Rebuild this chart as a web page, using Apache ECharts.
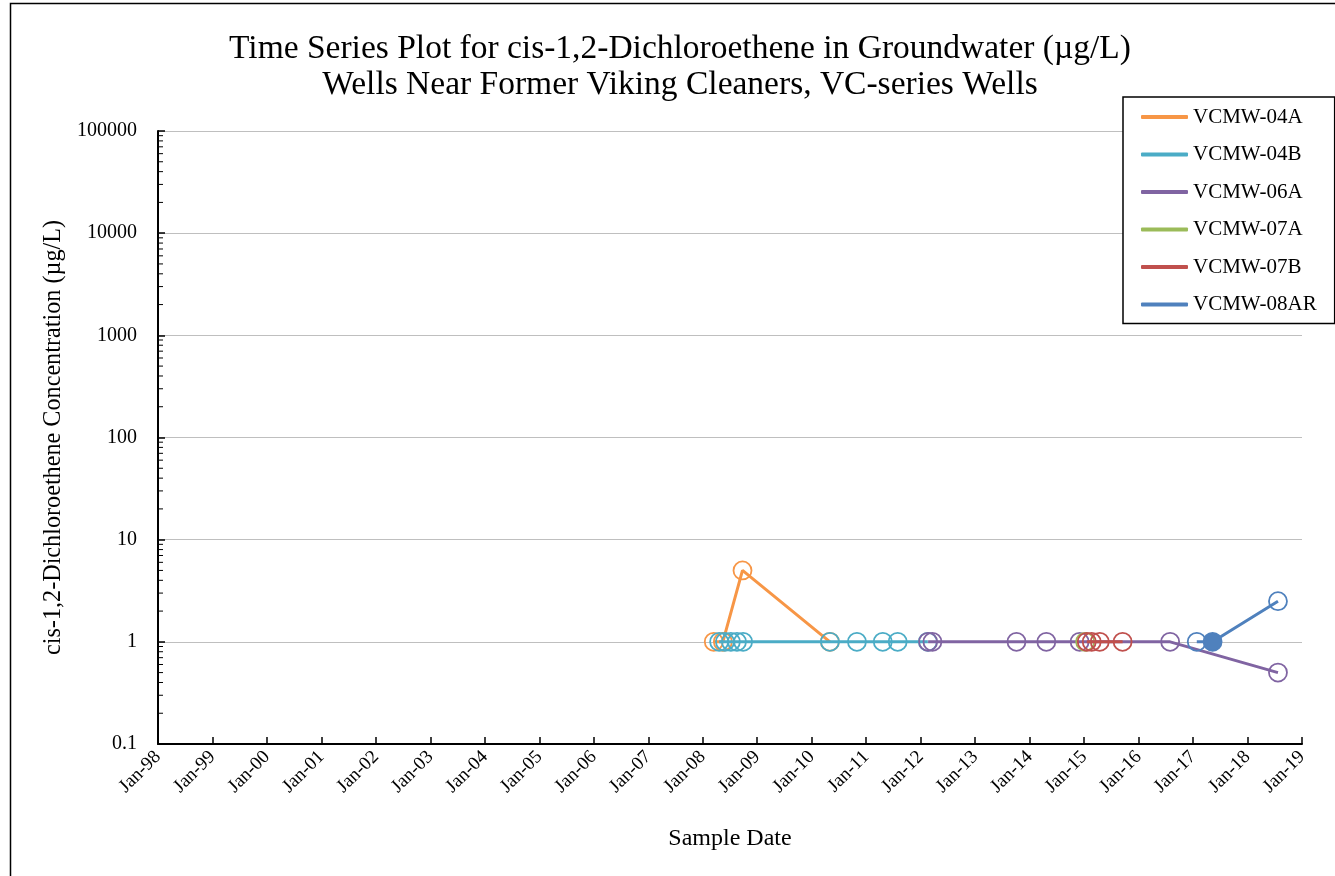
<!DOCTYPE html>
<html>
<head>
<meta charset="utf-8">
<script src="https://cdn.jsdelivr.net/npm/echarts@6/dist/echarts.min.js"></script>
<style>
html,body{margin:0;padding:0;background:#fff;}
#chart{width:1335px;height:876px;}
</style>
</head>
<body>
<div id="chart"></div>
<script>
// ---------- DATA ----------
const seriesNames = ['VCMW-04A','VCMW-04B','VCMW-06A','VCMW-07A','VCMW-07B','VCMW-08AR'];
const seriesColors = ['#F79646','#4BACC6','#8064A2','#9BBB59','#C0504D','#4F81BD'];

const dates04A = ['2008-03-15','2008-05-15','2008-09-24','2010-05-03'];
const vals04A  = [1, 1, 5, 1];

const dates04B = ['2008-04-20','2008-05-29','2008-07-08','2008-08-18','2008-09-28','2010-05-03','2010-10-31','2011-04-22','2011-07-31','2012-02-18'];
const vals04B  = [1, 1, 1, 1, 1, 1, 1, 1, 1, 1];

const dates06A = ['2012-02-20','2012-03-20','2013-10-05','2014-04-23','2014-12-02','2016-07-31','2018-07-24'];
const vals06A  = [1, 1, 1, 1, 1, 1, 0.5];

const dates07A = ['2015-01-08'];
const vals07A  = [1];

const dates07B = ['2015-01-19','2015-02-21','2015-04-16','2015-09-16'];
const vals07B  = [1, 1, 1, 1];

const dates08AR = ['2017-01-26','2017-05-12','2018-07-24'];
const vals08AR  = [1, 1, 2.5];
const detected08AR = [false, true, false];

const xTickYears = [1998, 2019];          // axis range (Jan-98 .. Jan-19)
const yTickRange = [0.1, 100000];         // log axis range

// ---------- HELPERS ----------
function toYear(s){
  const d = new Date(s + 'T00:00:00Z');
  const y = d.getUTCFullYear();
  const a = Date.UTC(y,0,1), b = Date.UTC(y+1,0,1);
  return y + (d.getTime() - a) / (b - a);
}
function pts(dates, vals, detected){
  return dates.map((d,i) => {
    const item = { value: [toYear(d), vals[i]] };
    if (detected && detected[i]) item.detected = true;
    return item;
  });
}
const allData = [
  pts(dates04A, vals04A),
  pts(dates04B, vals04B),
  pts(dates06A, vals06A),
  pts(dates07A, vals07A),
  pts(dates07B, vals07B),
  pts(dates08AR, vals08AR, detected08AR)
];

const FONT = 'Liberation Serif';

const lineSeries = seriesNames.map((name, i) => ({
  name: name,
  type: 'line',
  data: allData[i].map(p => p.detected
      ? { value: p.value, itemStyle: { color: seriesColors[i], borderColor: seriesColors[i] } }
      : { value: p.value }),
  symbol: 'circle',
  symbolSize: 18,
  showAllSymbol: true,
  lineStyle: { color: seriesColors[i], width: 3 },
  itemStyle: { color: 'rgba(0,0,0,0)', borderColor: seriesColors[i], borderWidth: 1.8 },
  emphasis: { disabled: true },
  animation: false,
  z: 3 + i
}));

// log minor ticks (2..9 x 10^k) drawn through the axis scale
const minorVals = [];
for (let k = -1; k < 5; k++) for (let m = 2; m <= 9; m++) minorVals.push([xTickYears[0], +(m * Math.pow(10, k)).toPrecision(6)]);

const minorTickSeries = {
  type: 'custom',
  silent: true,
  animation: false,
  clip: false,
  z: 10,
  data: minorVals,
  renderItem: function(params, api){
    const p = api.coord([api.value(0), api.value(1)]);
    return { type: 'line', shape: { x1: p[0], y1: p[1], x2: p[0] + 5, y2: p[1] },
             style: { stroke: '#000', lineWidth: 1 } };
  }
};

const chart = echarts.init(document.getElementById('chart'), null, { renderer: 'canvas' });
chart.setOption({
  backgroundColor: '#fff',
  animation: false,
  title: {
    text: 'Time Series Plot for cis-1,2-Dichloroethene in Groundwater (µg/L)\nWells Near Former Viking Cleaners, VC-series Wells',
    left: 680,
    top: 31,
    textAlign: 'center',
    padding: 0,
    textStyle: { fontFamily: FONT, fontSize: 33.5, fontWeight: 'normal', color: '#000', lineHeight: 36 }
  },
  graphic: [{
    type: 'rect', left: 8, top: 1, z: -1, silent: true,
    shape: { width: 1400, height: 900 },
    style: { fill: 'none', stroke: '#000', lineWidth: 1.5 }
  }],
  legend: {
    orient: 'vertical',
    left: 1123, top: 97,
    padding: [9, 18, 8, 18],
    itemGap: 15.5,
    itemWidth: 47, itemHeight: 4,
    backgroundColor: '#fff',
    borderColor: '#000', borderWidth: 1.5,
    z: 20,
    textStyle: { fontFamily: FONT, fontSize: 21, color: '#000', lineHeight: 22 },
    data: seriesNames.map((n, i) => ({ name: n, icon: 'roundRect', itemStyle: { color: seriesColors[i], borderWidth: 0 } }))
  },
  grid: { left: 158, right: 33, top: 131, bottom: 132, containLabel: false },
  xAxis: {
    type: 'value',
    min: xTickYears[0], max: xTickYears[1], interval: 1,
    name: 'Sample Date', nameLocation: 'middle', nameGap: 83,
    nameTextStyle: { fontFamily: FONT, fontSize: 24, color: '#000' },
    axisLine: { show: true, onZero: false, lineStyle: { color: '#000', width: 2 } },
    axisTick: { show: true, inside: true, length: 7, lineStyle: { color: '#000', width: 1.5 } },
    splitLine: { show: false },
    axisLabel: {
      rotate: 45, margin: 10, fontFamily: FONT, fontSize: 19, color: '#000',
      formatter: v => 'Jan-' + String(Math.round(v) % 100).padStart(2, '0')
    }
  },
  yAxis: {
    type: 'log', logBase: 10,
    min: yTickRange[0], max: yTickRange[1],
    name: 'cis-1,2-Dichloroethene Concentration (µg/L)', nameLocation: 'middle', nameGap: 83,
    nameTextStyle: { fontFamily: FONT, fontSize: 24.2, color: '#000' },
    axisLine: { show: true, lineStyle: { color: '#000', width: 2 } },
    axisTick: { show: true, inside: true, length: 7, lineStyle: { color: '#000', width: 1.5 } },
    splitLine: { show: true, lineStyle: { color: '#BFBFBF', width: 1 } },
    axisLabel: {
      margin: 21, fontFamily: FONT, fontSize: 20, color: '#000',
      formatter: v => String(+(+v).toPrecision(6))
    }
  },
  series: lineSeries.concat([minorTickSeries])
});
</script>
</body>
</html>
